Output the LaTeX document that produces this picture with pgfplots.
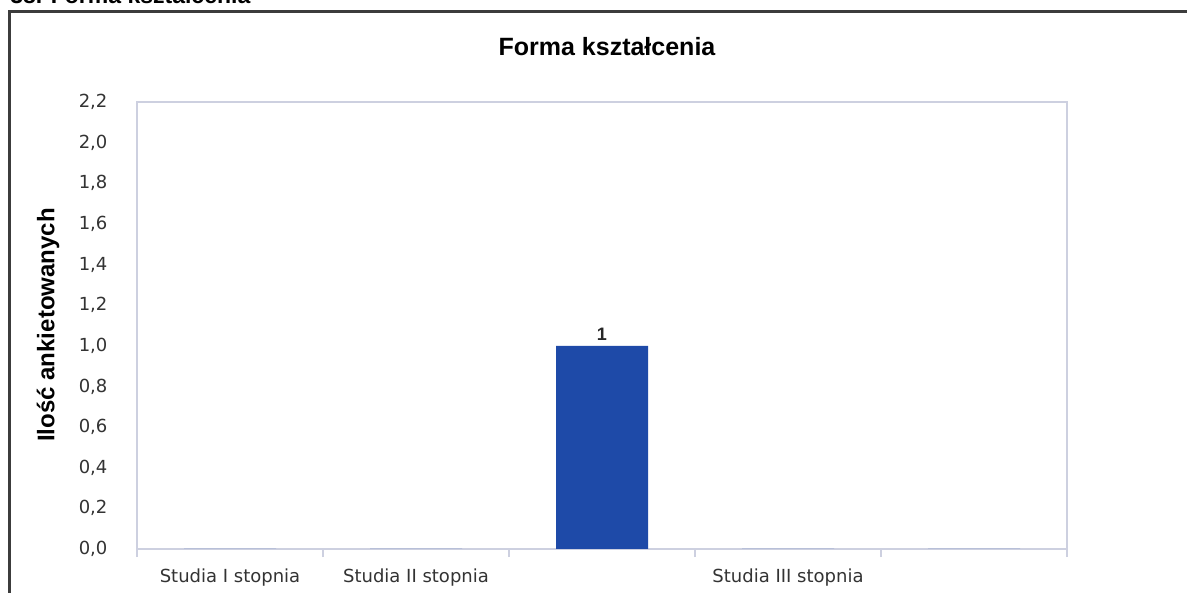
\documentclass[border=0pt]{standalone}
\usepackage{pgfplots}
\pgfplotsset{compat=1.18}
\usepackage{fontspec}
\setmainfont{DejaVu Sans}
\newfontfamily\arialb{Liberation Sans}
\definecolor{barblue}{RGB}{30,74,168}
\definecolor{axgray}{RGB}{205,208,224}
\definecolor{frame}{RGB}{60,60,60}
\begin{document}
\begin{tikzpicture}[x=1pt,y=1pt]
\clip (0,0) rectangle (593.5,296.5);
\path[use as bounding box] (0,0) rectangle (593.5,296.5);
\fill[white] (0,0) rectangle (593.5,296.5);
% cut-off heading
\node[anchor=base west,inner sep=0pt,font=\arialb\bfseries\fontsize{11.5}{13}\selectfont] at (5,294.5) {38. Forma kształcenia};
% outer frame
\draw[frame,line width=1.5pt] (4.5,-5) -- (4.5,290.5) -- (600,290.5);
% title
\node[font=\arialb\bfseries\fontsize{12.5}{14}\selectfont] at (303.5,273) {Forma kształcenia};
% y label
\node[rotate=90,font=\arialb\bfseries\fontsize{12}{14}\selectfont] at (24,134) {Ilość ankietowanych};
\begin{axis}[
  at={(68.5pt,22pt)}, anchor=south west,
  scale only axis, width=465pt, height=223.5pt,
  xmin=0.5, xmax=5.5, ymin=0, ymax=2.2,
  axis line style={axgray, line width=0.6pt},
  xtick={1,2,3,4,5},
  xticklabels={Studia I stopnia,Studia II stopnia,,Studia III stopnia,},
  major x tick style={draw=none},
  minor xtick={0.5,1.5,2.5,3.5,4.5,5.5},
  minor x tick style={axgray, line width=0.6pt},
  minor tick length=4pt,
  xtick pos=bottom, tick align=outside,
  ytick={0,0.2,...,2.21},
  major y tick style={draw=none},
  ytick pos=left,
  yticklabel={\pgfmathprintnumber[fixed,fixed zerofill,precision=1,use comma]{\tick}},
  /pgf/number format/assume math mode=true,
  every tick label/.append style={font=\fontsize{9}{11}\selectfont, text=black!80},
  yticklabel style={xshift=-7pt},
  xticklabel style={yshift=-2pt},
  ybar, bar width=46pt,
  nodes near coords,
  point meta=explicit symbolic,
  every node near coord/.append style={font=\arialb\bfseries\fontsize{9}{10}\selectfont, text=black!85, yshift=-1pt},
]
\addplot[fill=barblue, draw=none] coordinates {(1,0) [] (2,0) [] (3,1) [1] (4,0) [] (5,0) []};
\end{axis}
\end{tikzpicture}
\end{document}
